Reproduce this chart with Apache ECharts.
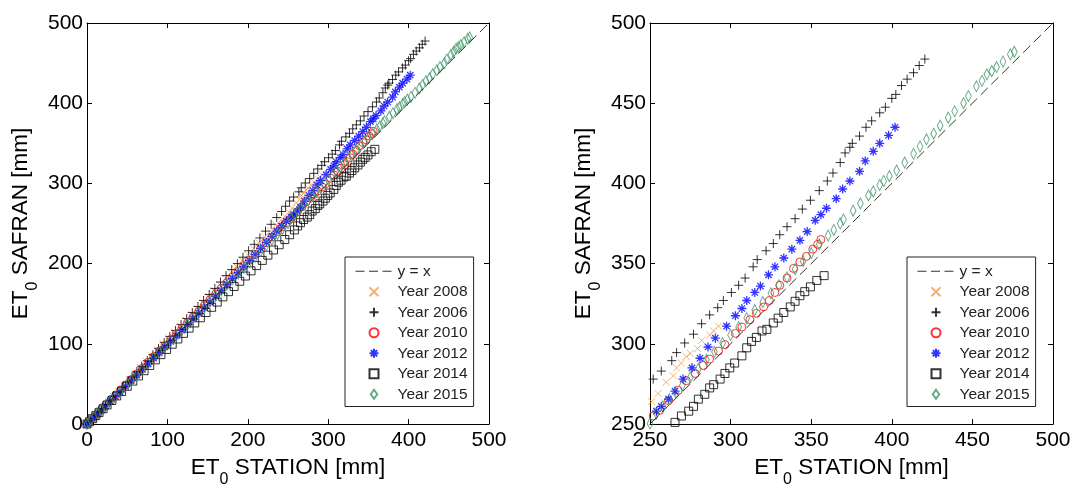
<!DOCTYPE html>
<html>
<head>
<meta charset="utf-8">
<script src="https://cdn.jsdelivr.net/npm/echarts@6/dist/echarts.min.js"></script>
<style>
html,body{margin:0;padding:0;background:#fff;}
#chart{width:1073px;height:486px;}
</style>
</head>
<body>
<div id="chart"></div>
<script>
// ---- data (ET0 STATION [mm], ET0 SAFRAN [mm]) ----
const seriesNames = ['Year 2008', 'Year 2006', 'Year 2010', 'Year 2012', 'Year 2014', 'Year 2015'];
const lineName = 'y = x';
const identityLine = [[0, 0], [500, 500]];
const ticksFull = [0, 100, 200, 300, 400, 500];
const ticksZoom = [250, 300, 350, 400, 450, 500];

const y2008 = [[0,0],[3,3],[7,7.2],[11,11.5],[16,16.5],[21,22],[27,28],[33,34.5],[39,40.5],[46,48],[53,55.5],[60,63],[67,70.5],[74,78],[81,85],[88,92.5],[95,100],[102,107],[109,114.5],[116,122],[123,129.5],[130,137],[137,144],[144,151.5],[151,159],[158,166.5],[165,174],[172,181.5],[179,189],[186,196.5],[193,204],[200,211],[207,218.5],[214,226],[221,233],[228,240.5],[235,248],[241,254],[246,259],
  [251,264],[255,269],[260,276],[264.5,280],[266.5,285],[269.5,288],[272.5,292],[275,294],[279.5,297],[282,302],[287,305.5],[289.5,308],[292.5,311]];

const y2006 = [[0,0],[3,3],[6,6.5],[10,10.5],[14,15],[18,19],[23,24.5],[28,29.5],[33,35],[38,40],[44,46.5],[50,52.5],[56,59],[62,65.5],[68,72],[75,79],[82,86.5],[89,94],[96,101.5],[103,109],[110,116.5],[117,124],[124,131.5],[131,139],[138,146.5],[145,154],[152,161.5],[159,169],[166,177],[173,185],[180,192.5],[187,200],[194,208],[201,216],[208,224],[215,232],[222,240.5],[229,249],[236,257.5],[242,265],[247,271.5],
  [252,278],[257,283],[263.5,289.5],[266.5,294.5],[271.5,300.5],[277,306],[282,312.5],[287,318],[292,322.5],[295.5,327],[300.5,332],[305,336.5],[309,341],[314,348],[316.5,352.5],[322,358],[326.5,362.5],[330.5,368],[335,373],[340,378],[344.5,384],[349.5,389.5],[355,395.5],[360,401.5],[363.5,406.5],[368,413],[371,419],[374,422.5],[375.5,425],[380,429.5],[384,435],[387.5,439],[392.5,444],[396,447.5],[400,453],[402.5,455.5],[406,461],[409.5,465],[413.5,469],[417,473.5],[420.5,477.5]];

const y2010 = [[0,0],[3,2.8],[6,5.8],[10,9.8],[14,14],[19,19],[24,24],[30,30],[36,36],[42,42.5],[48,48.5],[55,55.5],[62,62.5],[69,69.5],[76,77],[83,84],[90,91],[97,98],[104,105.5],[111,112.5],[118,119.5],[125,126.5],[132,133.5],[139,140.5],[146,148],[153,155],[160,162],[167,169],[174,176],[181,183.5],[188,190.5],[195,197.5],[202,204.5],[209,211.5],[216,218.5],[223,226],[230,233],[237,240],[243,246],[248,251],
  [252,255],[256,258.5],[261.5,264.5],[267.5,271],[272.5,277],[278,281.5],[283,286.5],[287,290.5],[292.5,295.5],[296.5,299.5],[303,306.5],[307,310.5],[312,315],[316,319],[320.5,323],[324,327],[327.5,332],[330.5,336.5],[335,341],[339,347],[343,351],[347,354.5],[351,359],[354,362],[356,365]];

const y2012 = [[0,0],[2,2],[5,4.8],[9,8.8],[13,12.8],[18,17.6],[23,22.5],[29,28.4],[35,34.3],[41,40.2],[48,47],[55,54],[62,61],[69,68],[76,75],[83,82],[90,89],[97,96],[104,103],[111,110],[118,117],[125,124],[132,131],[139,138],[146,145],[153,152],[160,159.5],[167,166.5],[174,174],[181,181.5],[188,189],[195,196.5],[202,204],[209,211.5],[216,219],[223,226.5],[230,234],[236,240.5],[242,247],[248,253],
  [254,258],[257,261],[261.5,265.5],[265.5,270.5],[270.5,278],[276,285],[281,291],[286,298],[290.5,303.5],[297.5,311],[303,317.5],[307,322],[310,327],[315,332],[318.5,336],[323.5,343],[327.5,348],[333,353.5],[338,359],[343,364.5],[347.5,370],[352.5,377],[356,380.5],[359.5,384.5],[365.5,390.5],[369.5,396.5],[374,401.5],[380,407.5],[383.5,414],[388.5,420],[392.5,425],[398,430],[402,435]];

const y2014 = [[0,0],[3,2.8],[7,6.6],[11,10.4],[15,14.2],[20,19],[25,23.7],[31,29.3],[37,35],[43,40.5],[50,47],[57,53.5],[64,60],[71,66.5],[78,73],[85,80],[92,86.5],[99,93],[106,99.5],[113,106],[120,113],[127,119.5],[134,126],[141,132.5],[148,139],[155,145.5],[162,152],[169,158.5],[176,165],[183,171.5],[190,178],[197,184.5],[204,191],[211,197.5],[218,204],[225,210.5],[232,217],[239,223.5],[246,230],[252,236],[258,242],[262,247],
  [265.5,251],[269.5,255],[274,258],[277,261],[280,265.5],[284,268.5],[287,272.5],[289.5,274.5],[293.5,278],[296.5,281.5],[299.5,285],[302.5,288],[307,292.5],[310,297.5],[313,301.5],[316,304],[319.5,308],[322.5,309],[326.5,313],[329.5,316],[333,319.5],[337,323],[340,326.5],[343,330],[346,332.5],[349.5,335.5],[353.5,339.5],[358,342.5]];

const y2015 = [[0,0],[2,2],[5,5],[9,9],[13,13],[18,17.8],[23,22.8],[29,28.7],[35,34.6],[41,40.5],[48,47.4],[55,54.3],[62,61.2],[69,68.2],[76,75.2],[83,82.2],[90,89.2],[97,96.2],[104,103.2],[111,110.2],[118,117.2],[125,124.2],[132,131.2],[139,138.3],[146,145.3],[153,152.4],[160,159.4],[167,166.5],[174,173.5],[181,180.5],[188,187.6],[195,194.6],[202,201.7],[209,208.7],[216,215.8],[223,222.8],[230,229.9],[237,237],[243,243.2],[250,250.3],
  [254,256.5],[258,261],[262,265.5],[266,269.5],[270,274],[275,279],[280,284.5],[285,290],[290,295],[295,300.5],[300,305.5],[305,310.5],[310,316],[315,321],[320,326],[325,331.5],[330,336.5],[335,341.5],[340,346.5],[345,351.5],[350,356.5],[355,362],[360.5,367.5],[364,371],[368,375],[370,377.5],[376,383],[380.5,387.5],[385.5,392.5],[388.5,395],[392.5,399],[395,401.5],[398.5,404.5],[403,408],[408,413],[413.5,418.5],[417.5,423],[421.5,427.5],[426,431],[430,436],[435,441],[439,445],[444.5,450],[447.5,454.5],[452.5,460.5],[456,464],[459,468],[462,470],[465,472.5],[469,476],[473.5,480.5],[476,482]];

const seriesData = [y2008, y2006, y2010, y2012, y2014, y2015];

// ---- styles ----
const FONT = '"Liberation Sans", Arial, Helvetica, sans-serif';
const markerStyles = [
  { symbol: 'path://M0,0L10,10M10,0L0,10', size: 7, color: '#f0a050', width: 1 },
  { symbol: 'path://M5,0L5,10M0,5L10,5', size: 9, color: '#000000', width: 1 },
  { symbol: 'circle', size: 8, color: '#ff0000', width: 1 },
  { symbol: 'path://M5,0L5,10M0,5L10,5M1.5,1.5L8.5,8.5M8.5,1.5L1.5,8.5', size: 9, color: '#0000ff', width: 1.3 },
  { symbol: 'path://M0,0L10,0L10,10L0,10Z', size: 8, color: '#000000', width: 1 },
  { symbol: 'path://M5,0L10,7L5,14L0,7Z', size: [8, 11], color: '#3f9466', width: 1 }
];

const grids = [
  { left: 87, top: 23, width: 402, height: 401, outerBoundsMode: 'none', containLabel: false },
  { left: 650, top: 23, width: 403, height: 401, outerBoundsMode: 'none', containLabel: false }
];
const ranges = [ticksFull, ticksZoom];

const xAxes = [], yAxes = [];
grids.forEach((g, i) => {
  const t = ranges[i];
  const mn = t[0], mx = t[t.length - 1], iv = t[1] - t[0];
  const nameRich = {
    n: { fontSize: 22.5, fontFamily: FONT, color: '#000' },
    s: { fontSize: 16, fontFamily: FONT, color: '#000', padding: [24, 0, 0, 0] }
  };
  const base = {
    type: 'value', gridIndex: i, min: mn, max: mx, interval: iv,
    axisLine: { show: true, onZero: false, lineStyle: { color: '#000', width: 1 } },
    axisTick: { show: true, inside: true, length: 5, lineStyle: { color: '#000' } },
    splitLine: { show: false }
  };
  xAxes.push(Object.assign({}, base, {
    position: 'bottom',
    axisLabel: { show: true, fontSize: 21, fontFamily: FONT, color: '#000', margin: 6 },
    name: '{n|ET}{s|0}{n| STATION [mm]}', nameLocation: 'middle', nameGap: 24,
    nameTextStyle: { rich: nameRich }
  }));
  xAxes.push(Object.assign({}, base, { position: 'top', axisLabel: { show: false } }));
  yAxes.push(Object.assign({}, base, {
    position: 'left',
    axisLabel: { show: true, fontSize: 21, fontFamily: FONT, color: '#000', margin: 4 },
    name: '{n|ET}{s|0}{n| SAFRAN [mm]}', nameLocation: 'middle', nameGap: 46, nameRotate: 90,
    nameTextStyle: { rich: nameRich }
  }));
  yAxes.push(Object.assign({}, base, { position: 'right', axisLabel: { show: false } }));
});

const series = [];
grids.forEach((g, i) => {
  series.push({
    name: lineName, type: 'line', xAxisIndex: i * 2, yAxisIndex: i * 2,
    data: identityLine, symbol: 'none', silent: true, clip: true,
    lineStyle: { color: '#333', width: 1, type: [10, 5] }, itemStyle: { color: '#333' }
  });
  seriesNames.forEach((nm, k) => {
    const m = markerStyles[k];
    series.push({
      name: nm, type: 'scatter', xAxisIndex: i * 2, yAxisIndex: i * 2,
      data: seriesData[k], symbol: m.symbol, symbolSize: m.size, symbolKeepAspect: true,
      silent: true, clip: true,
      itemStyle: { color: 'rgba(0,0,0,0)', borderColor: m.color, borderWidth: m.width }
    });
  });
});

const legendData = [{ name: lineName, itemStyle: { opacity: 0 }, lineStyle: { type: [9, 4.5], color: '#333', width: 1 } }]
  .concat(seriesNames.map(n => ({ name: n })));
function makeLegend(left) {
  return {
    orient: 'vertical', left: left, top: 257,
    data: legendData, selectedMode: false,
    itemWidth: 37, itemHeight: 9, itemGap: 0,
    padding: [4, 6, 2, 10],
    borderColor: '#222', borderWidth: 1, backgroundColor: '#fff',
    textStyle: { fontSize: 15.5, fontFamily: FONT, color: '#222', lineHeight: 20.5 }
  };
}

const chart = echarts.init(document.getElementById('chart'), null, { renderer: 'canvas' });
chart.setOption({
  animation: false,
  backgroundColor: '#fff',
  grid: grids,
  xAxis: xAxes,
  yAxis: yAxes,
  legend: [makeLegend(345), makeLegend(907)],
  series: series
});
</script>
</body>
</html>
